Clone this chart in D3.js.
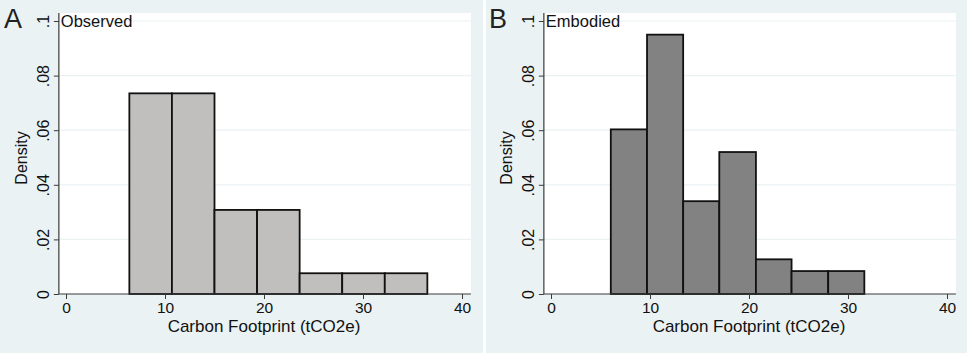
<!DOCTYPE html>
<html>
<head>
<meta charset="utf-8">
<script src="https://cdn.jsdelivr.net/npm/d3@7"></script>
<style>
  html, body { margin: 0; padding: 0; background: #ffffff; }
  svg { display: block; font-family: "Liberation Sans", Arial, sans-serif; }
</style>
</head>
<body>
<div id="chart"></div>
<script>
// -------------------- Data --------------------
const panelLetters = ["A", "B"];
const panelTitles = ["Observed", "Embodied"];
const xTicks = [0, 10, 20, 30, 40];
const yTicks = [0, 0.02, 0.04, 0.06, 0.08, 0.1];
const yTickLabels = ["0", ".02", ".04", ".06", ".08", ".1"];

// bin edges (tCO2e) and density per bin
const observedEdges = [6.4, 10.7, 15.0, 19.3, 23.6, 27.9, 32.2, 36.5];
const observedDensity = [0.0735, 0.0735, 0.0308, 0.0308, 0.0076, 0.0076, 0.0076];
const embodiedEdges = [6.04, 9.7, 13.35, 17.0, 20.7, 24.3, 28.0, 31.65];
const embodiedDensity = [0.0603, 0.095, 0.034, 0.052, 0.0127, 0.0084, 0.0084];

const xLabel = "Carbon Footprint (tCO2e)";
const yLabel = "Density";

// -------------------- Layout --------------------
const width = 969, height = 353;
const bg = "#eaf2f3";
const panels = [
  { edges: observedEdges, dens: observedDensity, fill: "#c1bebe", x0: 0, w: 483 },
  { edges: embodiedEdges, dens: embodiedDensity, fill: "#828282", x0: 486, w: 481 }
];

const svg = d3.select("#chart").append("svg")
  .attr("width", width)
  .attr("height", height);

panels.forEach((p, i) => {
  const off = i === 0 ? 0 : 485;
  const g = svg.append("g");

  g.append("rect")
    .attr("x", p.x0).attr("y", 0)
    .attr("width", p.w).attr("height", height)
    .attr("fill", bg);

  const x = d3.scaleLinear().domain([0, 40]).range([66 + off, 462 + off]);
  const y = d3.scaleLinear().domain([0, 0.1]).range([294, 21]);

  const plotL = x(-0.72), plotR = x(40.9), plotT = 13, plotB = y(0);

  g.append("rect")
    .attr("x", plotL).attr("y", plotT)
    .attr("width", plotR - plotL).attr("height", plotB - plotT)
    .attr("fill", "#ffffff");

  // grid lines
  g.append("g").selectAll("line")
    .data(yTicks.filter(d => d > 0))
    .join("line")
    .attr("x1", plotL).attr("x2", plotR)
    .attr("y1", d => y(d)).attr("y2", d => y(d))
    .attr("stroke", bg).attr("stroke-width", 1.2);

  // bars
  const bins = p.dens.map((d, k) => ({ x0: p.edges[k], x1: p.edges[k + 1], d }));
  g.append("g").selectAll("rect")
    .data(bins)
    .join("rect")
    .attr("x", d => x(d.x0))
    .attr("y", d => y(d.d))
    .attr("width", d => x(d.x1) - x(d.x0))
    .attr("height", d => y(0) - y(d.d))
    .attr("fill", p.fill)
    .attr("stroke", "#111")
    .attr("stroke-width", 1.8);

  // y axis
  const yAxis = g.append("g")
    .attr("transform", `translate(${plotL},0)`)
    .call(d3.axisLeft(y).tickValues(yTicks).tickSize(5).tickFormat((d, k) => yTickLabels[k]));
  yAxis.select(".domain").attr("d", `M0,${plotT}V${plotB}`).attr("stroke", "#3a3a3a").attr("stroke-width", 1.2);
  yAxis.selectAll(".tick line").attr("stroke", "#3a3a3a");
  yAxis.selectAll(".tick text")
    .attr("x", null).attr("dy", null)
    .attr("transform", "translate(-10,0) rotate(-90)")
    .attr("text-anchor", "middle")
    .attr("fill", "#111")
    .style("font-size", "16px");

  // x axis
  const xAxis = g.append("g")
    .attr("transform", `translate(0,${plotB})`)
    .call(d3.axisBottom(x).tickValues(xTicks).tickSize(5).tickFormat(d3.format("d")));
  xAxis.select(".domain").attr("d", `M${plotL},0H${plotR}`).attr("stroke", "#3a3a3a").attr("stroke-width", 1.2);
  xAxis.selectAll(".tick line").attr("stroke", "#3a3a3a");
  xAxis.selectAll(".tick text")
    .attr("y", 19).attr("dy", null)
    .attr("fill", "#111")
    .style("font-size", "15.5px");

  // axis titles
  g.append("text")
    .attr("x", (x(0) + x(40)) / 2).attr("y", 332)
    .attr("text-anchor", "middle")
    .attr("fill", "#111")
    .style("font-size", "17px")
    .text(xLabel);

  g.append("text")
    .attr("transform", `translate(${27 + off},158) rotate(-90)`)
    .attr("text-anchor", "middle")
    .attr("fill", "#111")
    .style("font-size", "16px")
    .text(yLabel);

  // panel title inside plot
  g.append("text")
    .attr("x", plotL + 2).attr("y", 27)
    .attr("fill", "#111")
    .style("font-size", "16.5px")
    .text(panelTitles[i]);

  // panel letter
  g.append("text")
    .attr("x", 4 + off).attr("y", 28)
    .attr("fill", "#222")
    .style("font-size", "27px")
    .text(panelLetters[i]);
});
</script>
</body>
</html>
